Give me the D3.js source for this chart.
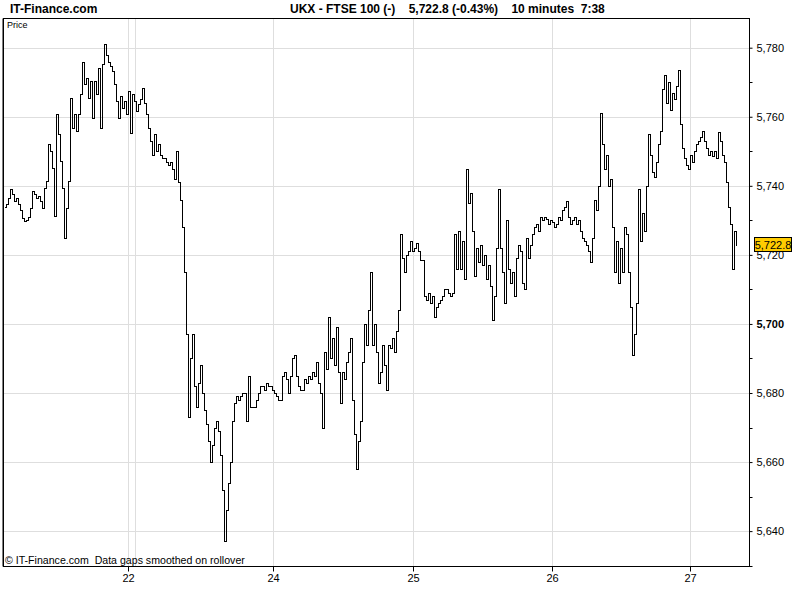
<!DOCTYPE html>
<html>
<head>
<meta charset="utf-8">
<script src="https://d3js.org/d3.v7.min.js"></script>
<style>
  body { margin: 0; background: #fff; }
  svg { display: block; font-family: "Liberation Sans", Arial, sans-serif; }
</style>
</head>
<body>
<div id="chart"></div>
<script>
// Width and Height of the whole visualization
var width = 800;
var height = 600;

// 2-pixel price samples (21st .. 27th)
var prices = [
  5734, 5734.6, 5736.5, 5739, 5737.5, 5735.6, 5736.5, 5734.6, 5733, 5730.7,
  5729.8, 5730.2, 5731, 5733.6, 5738.5, 5737.5, 5736.5, 5737, 5735.6, 5733.6,
  5739.4, 5741.4, 5752, 5750, 5745.2, 5731.2, 5760.7, 5754.9, 5747.1, 5739.4,
  5725, 5733.6, 5741.4, 5765.5, 5756.8, 5760.7, 5755.8, 5760.7, 5766.5, 5776,
  5769.4, 5771.3, 5765.5, 5770.3, 5759.7, 5770.3, 5766.5, 5774.2, 5756.8, 5775.2,
  5781, 5778, 5776, 5774.7, 5773.2, 5769.4, 5764.5, 5759.7, 5766, 5762.6,
  5764.5, 5760.7,
  // 22nd / 23rd
  5767.4, 5755.4, 5766.5, 5764.5, 5761.6, 5763.6, 5765, 5768.4, 5764, 5760.7,
  5756.8, 5753, 5749, 5755, 5750, 5752, 5749, 5748, 5748, 5747,
  5746, 5747, 5745, 5742, 5750, 5741, 5736, 5728, 5715, 5697,
  5673, 5690, 5697, 5682, 5676, 5683, 5688, 5680, 5675, 5671,
  5666, 5660, 5665, 5670, 5672, 5669, 5662, 5652, 5637, 5646,
  5654, 5660, 5672, 5677, 5679, 5678, 5679, 5680, 5680, 5672,
  5685, 5676, 5676, 5676, 5678, 5680, 5682, 5682, 5681, 5683,
  5682, 5682, 5681, 5680,
  // 24th
  5679, 5678, 5678, 5685, 5686, 5684, 5680, 5685, 5690, 5691,
  5685, 5682, 5681, 5681, 5684, 5683, 5685, 5684, 5686, 5685,
  5689, 5683, 5680, 5670, 5692, 5687, 5702, 5690, 5696, 5688,
  5699, 5686, 5677, 5686, 5684, 5689, 5692, 5696, 5678, 5668,
  5658, 5666, 5672, 5689, 5700, 5694, 5704, 5715, 5694, 5700,
  5692, 5683, 5686, 5694, 5688, 5681, 5694, 5693, 5696, 5692,
  5698, 5704, 5726, 5719, 5715, 5720, 5721, 5724, 5721, 5722,
  // 25th
  5723.5, 5721, 5718.5, 5718.5, 5708, 5707, 5709, 5706, 5708, 5702,
  5705, 5706, 5707, 5708, 5710, 5710, 5709, 5708, 5709, 5726,
  5716, 5727, 5716, 5724, 5713, 5745, 5735, 5738, 5727, 5714,
  5722, 5718, 5723, 5717, 5720, 5713, 5717, 5711, 5701, 5708,
  5722, 5739, 5722, 5715, 5706, 5730, 5716, 5712, 5715, 5708,
  5719, 5723, 5721, 5712, 5710, 5725, 5719, 5723, 5726, 5728,
  5729, 5727, 5731, 5730, 5731, 5730.5, 5729, 5730, 5729.5,
  // 26th
  5728, 5729, 5731, 5730, 5733, 5734, 5735.5, 5731, 5729, 5730,
  5731, 5729, 5730, 5727, 5725, 5724, 5723, 5721, 5718, 5725,
  5736, 5733, 5740, 5761, 5752, 5745, 5749, 5740, 5742, 5728,
  5715, 5724, 5712, 5722, 5715, 5728, 5726, 5715, 5705, 5691,
  5697, 5706, 5739, 5724, 5732, 5727, 5740, 5755, 5749, 5744,
  5742.5, 5747, 5752, 5756, 5768, 5772, 5764, 5770, 5762, 5767,
  5765, 5769, 5773.5, 5758, 5751, 5748, 5746, 5745,
  // 27th
  5749, 5747, 5750, 5752, 5753, 5754, 5756, 5753, 5751, 5749,
  5750, 5748.5, 5750, 5748, 5755.5, 5753, 5749, 5747, 5741, 5734,
  5729, 5716, 5727, 5722.8
];

// Day separators (sample index where each day starts) and their labels
var dayBars = [62, 65.5, 134.5, 204.5, 274, 343];
var dayLabels = ["22", "23", "24", "25", "26", "27"];

// Price axis ticks
var priceTicks = [5640, 5660, 5680, 5700, 5720, 5740, 5760, 5780];
var minorTicks = [5650, 5670, 5690, 5710, 5730, 5750, 5770];
var lastPrice = 5722.8;

var plot = { left: 3.5, top: 18.5, right: 749.5, bottom: 566.5 };

var svg = d3.select("#chart")
  .append("svg")
  .attr("width", width)
  .attr("height", height);

var x = d3.scaleLinear()
  .domain([0, prices.length - 1])
  .range([4, 736]);

var y = d3.scaleLinear()
  .domain([5629.9, 5788.6])
  .range([566, 18]);

// Grid lines
svg.append("g")
  .selectAll("line")
  .data(priceTicks)
  .enter().append("line")
  .attr("x1", plot.left)
  .attr("x2", plot.right)
  .attr("y1", function(d) { return Math.round(y(d)) + 0.5; })
  .attr("y2", function(d) { return Math.round(y(d)) + 0.5; })
  .style("stroke", "#dedede");

svg.append("g")
  .selectAll("line")
  .data(dayBars)
  .enter().append("line")
  .attr("x1", function(d) { return Math.round(x(d)) + 0.5; })
  .attr("x2", function(d) { return Math.round(x(d)) + 0.5; })
  .attr("y1", plot.top)
  .attr("y2", plot.bottom)
  .style("stroke", "#dedede");

// Price line (crisp, like the original bitmap)
var line = d3.line()
  .x(function(d, i) { return Math.round(x(i)) + 0.5; })
  .y(function(d) { return Math.round(y(d)) + 0.5; })
  .curve(d3.curveStepAfter);

svg.append("path")
  .datum(prices)
  .attr("d", line)
  .style("fill", "none")
  .style("stroke", "#000")
  .style("stroke-width", 1)
  .style("shape-rendering", "crispEdges");

// Frame
svg.append("rect")
  .attr("x", plot.left)
  .attr("y", plot.top)
  .attr("width", plot.right - plot.left)
  .attr("height", plot.bottom - plot.top)
  .style("fill", "none")
  .style("stroke", "#000")
  .style("shape-rendering", "crispEdges");
svg.append("line")
  .attr("x1", 3).attr("x2", 3)
  .attr("y1", plot.top).attr("y2", plot.bottom)
  .style("stroke", "#000");

// Right price axis
var yAxis = d3.axisRight(y)
  .tickValues(priceTicks)
  .tickSize(3)
  .tickPadding(4)
  .tickFormat(d3.format(","));

var yAxisG = svg.append("g")
  .attr("transform", "translate(" + plot.right + ",0)")
  .call(yAxis);
yAxisG.select(".domain").remove();
yAxisG.selectAll("text")
  .attr("font-size", 11)
  .attr("font-family", "Liberation Sans, Arial, sans-serif")
  .attr("font-weight", function(d) { return d == 5700 ? "bold" : "normal"; })
  .style("fill", "#000");
yAxisG.selectAll("line").style("stroke", "#000");

svg.append("g")
  .selectAll("line")
  .data(minorTicks.concat([5629.9]))
  .enter().append("line")
  .attr("x1", plot.right)
  .attr("x2", plot.right + 3)
  .attr("y1", function(d) { return Math.round(y(d)) + 0.5; })
  .attr("y2", function(d) { return Math.round(y(d)) + 0.5; })
  .style("stroke", "#000");

// Bottom day axis
var xAxis = d3.axisBottom(x)
  .tickValues(dayBars)
  .tickSize(5)
  .tickPadding(3)
  .tickFormat(function(d, i) {
    // 23 sits too close to 22, so its label is dropped
    if (i > 0 && x(d) - x(dayBars[i - 1]) < 20) return "";
    return dayLabels[i];
  });

var xAxisG = svg.append("g")
  .attr("transform", "translate(0," + plot.bottom + ")")
  .call(xAxis);
xAxisG.select(".domain").remove();
xAxisG.selectAll("text")
  .attr("font-size", 11)
  .attr("font-family", "Liberation Sans, Arial, sans-serif")
  .style("fill", "#000");
xAxisG.selectAll("line")
  .style("stroke", function(d, i) { return dayLabels[i] == "23" ? "none" : "#000"; });

// Last price marker
var lastY = y(lastPrice);
svg.append("rect")
  .attr("x", 754.5)
  .attr("y", Math.round(lastY) - 7.5)
  .attr("width", 37)
  .attr("height", 14)
  .style("fill", "#ffcc00")
  .style("stroke", "#000");
svg.append("text")
  .attr("x", 773)
  .attr("y", Math.round(lastY) + 4)
  .attr("text-anchor", "middle")
  .attr("font-size", 11)
  .text(d3.format(",.1f")(lastPrice));

// Titles
svg.append("text")
  .attr("x", 10)
  .attr("y", 13)
  .attr("font-size", 12)
  .attr("font-weight", "bold")
  .text("IT-Finance.com");

svg.append("text")
  .attr("x", 290)
  .attr("y", 13)
  .attr("font-size", 12)
  .attr("font-weight", "bold")
  .attr("xml:space", "preserve")
  .text("UKX - FTSE 100 (-)    5,722.8 (-0.43%)    10 minutes  7:38");

svg.append("text")
  .attr("x", 7)
  .attr("y", 28)
  .attr("font-size", 9)
  .text("Price");

svg.append("text")
  .attr("x", 5)
  .attr("y", 564)
  .attr("font-size", 10.6)
  .attr("xml:space", "preserve")
  .text("\u00a9 IT-Finance.com  Data gaps smoothed on rollover");
</script>
</body>
</html>
